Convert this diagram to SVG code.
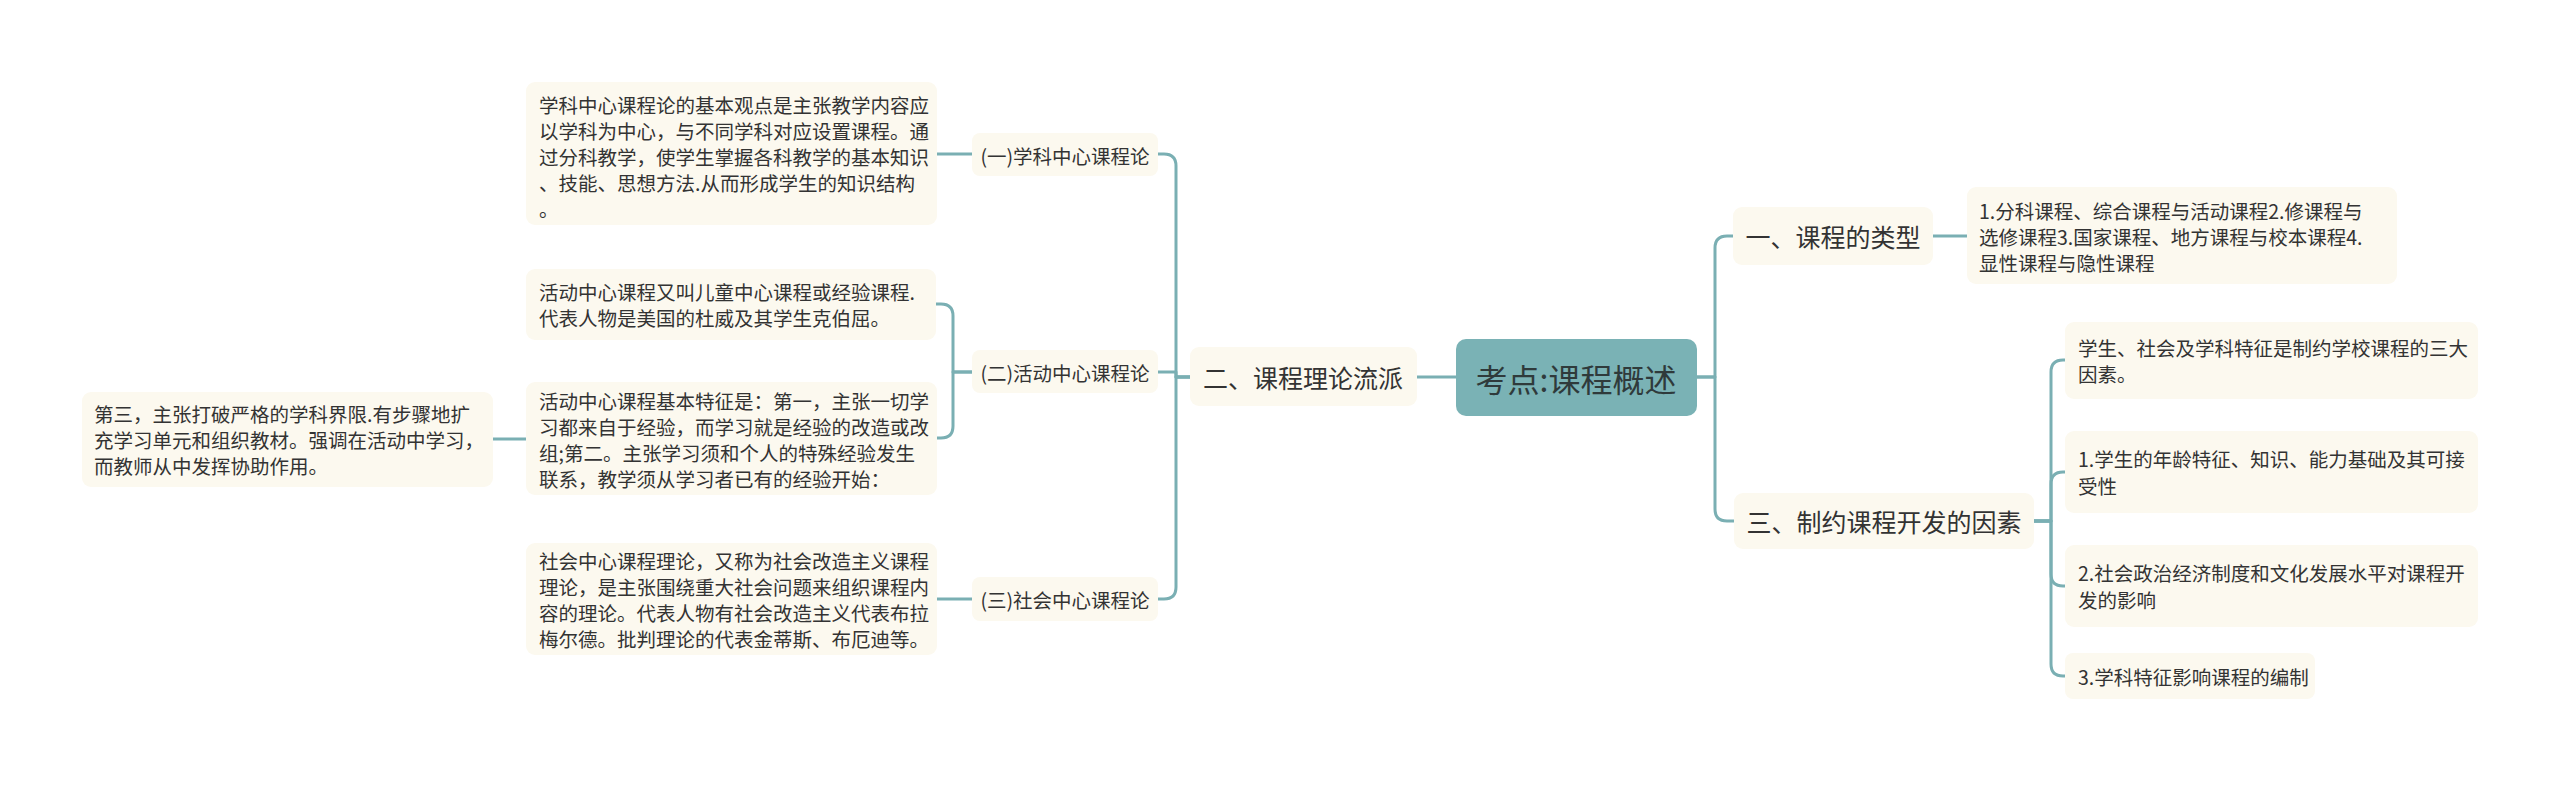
<svg xmlns="http://www.w3.org/2000/svg" width="2560" height="785" viewBox="0 0 2560 785">
<style>
text{font-family:"Noto Sans CJK SC","Noto Sans",sans-serif;fill:#333;dominant-baseline:central}
.leaf{fill:#fcf9ef}
.t{font-size:19.5px}
.m{font-size:19.5px;text-anchor:middle}
.b{font-size:25px;text-anchor:middle}
.c{font-size:32px;text-anchor:middle;fill:#2f3a3b}
.ln{fill:none;stroke:#7aafb3;stroke-width:3;stroke-linecap:round;stroke-linejoin:round}
</style>
<rect width="2560" height="785" fill="#fff"/>
<g id="connectors">
<path class="ln" d="M1456,377 H1417"/>
<path class="ln" d="M1190,377 H1176 V166 Q1176,154 1164,154 H1158"/>
<path class="ln" d="M1190,377 H1176 V372 H1158"/>
<path class="ln" d="M1190,377 H1176 V587 Q1176,599 1164,599 H1158"/>
<path class="ln" d="M972,154 H937"/>
<path class="ln" d="M972,372 H953 V316 Q953,304 941,304 H936"/>
<path class="ln" d="M972,372 H953 V426 Q953,438 941,438 H937"/>
<path class="ln" d="M526,439 H493"/>
<path class="ln" d="M972,599 H937"/>
<path class="ln" d="M1697,377 H1715 V248 Q1715,236 1727,236 H1733"/>
<path class="ln" d="M1697,377 H1715 V509 Q1715,521 1727,521 H1734"/>
<path class="ln" d="M1933,236 H1967"/>
<path class="ln" d="M2034,521 H2051 V372 Q2051,360 2063,360 H2065"/>
<path class="ln" d="M2034,521 H2051 V484 Q2051,472 2063,472 H2065"/>
<path class="ln" d="M2034,521 H2051 V574 Q2051,586 2063,586 H2065"/>
<path class="ln" d="M2034,521 H2051 V664 Q2051,676 2063,676 H2065"/>
</g>
<g id="root">
<rect x="1456" y="339" width="241" height="77" rx="10" fill="#7ab2b5"/>
<text class="c" x="1576" y="378">考点:课程概述</text>
</g>
<g id="n2">
<rect class="leaf" x="1190" y="347" width="227" height="59" rx="9"/>
<text class="b" x="1303" y="377">二、课程理论流派</text>
</g>
<g id="n2a">
<rect class="leaf" x="972" y="133" width="186" height="43" rx="8"/>
<text class="m" x="1065" y="155">(一)学科中心课程论</text>
</g>
<g id="n2a1">
<rect class="leaf" x="526" y="82" width="411" height="143" rx="9"/>
<text class="t" x="539" y="104">学科中心课程论的基本观点是主张教学内容应</text>
<text class="t" x="539" y="130">以学科为中心，与不同学科对应设置课程。通</text>
<text class="t" x="539" y="156">过分科教学，使学生掌握各科教学的基本知识</text>
<text class="t" x="539" y="182">、技能、思想方法.从而形成学生的知识结构</text>
<text class="t" x="539" y="208">。</text>
</g>
<g id="n2b">
<rect class="leaf" x="972" y="350" width="186" height="43" rx="8"/>
<text class="m" x="1065" y="372">(二)活动中心课程论</text>
</g>
<g id="n2b1">
<rect class="leaf" x="526" y="269" width="410" height="71" rx="9"/>
<text class="t" x="539" y="291">活动中心课程又叫儿童中心课程或经验课程.</text>
<text class="t" x="539" y="317">代表人物是美国的杜威及其学生克伯屈。</text>
</g>
<g id="n2b2">
<rect class="leaf" x="526" y="382" width="411" height="113" rx="9"/>
<text class="t" x="539" y="400">活动中心课程基本特征是：第一，主张一切学</text>
<text class="t" x="539" y="426">习都来自于经验，而学习就是经验的改造或改</text>
<text class="t" x="539" y="452">组;第二。主张学习须和个人的特殊经验发生</text>
<text class="t" x="539" y="478">联系，教学须从学习者已有的经验开始：</text>
</g>
<g id="n2b3">
<rect class="leaf" x="82" y="392" width="411" height="95" rx="9"/>
<text class="t" x="94" y="413">第三，主张打破严格的学科界限.有步骤地扩</text>
<text class="t" x="94" y="439">充学习单元和组织教材。强调在活动中学习，</text>
<text class="t" x="94" y="465">而教师从中发挥协助作用。</text>
</g>
<g id="n2c">
<rect class="leaf" x="972" y="577" width="186" height="44" rx="8"/>
<text class="m" x="1065" y="599">(三)社会中心课程论</text>
</g>
<g id="n2c1">
<rect class="leaf" x="526" y="543" width="411" height="112" rx="9"/>
<text class="t" x="539" y="560">社会中心课程理论，又称为社会改造主义课程</text>
<text class="t" x="539" y="586">理论，是主张围绕重大社会问题来组织课程内</text>
<text class="t" x="539" y="612">容的理论。代表人物有社会改造主义代表布拉</text>
<text class="t" x="539" y="638">梅尔德。批判理论的代表金蒂斯、布厄迪等。</text>
</g>
<g id="n1">
<rect class="leaf" x="1733" y="207" width="200" height="58" rx="9"/>
<text class="b" x="1833" y="236">一、课程的类型</text>
</g>
<g id="n1a">
<rect class="leaf" x="1967" y="187" width="430" height="97" rx="9"/>
<text class="t" x="1979" y="210">1.分科课程、综合课程与活动课程2.修课程与</text>
<text class="t" x="1979" y="236">选修课程3.国家课程、地方课程与校本课程4.</text>
<text class="t" x="1979" y="262">显性课程与隐性课程</text>
</g>
<g id="n3">
<rect class="leaf" x="1734" y="493" width="300" height="56" rx="9"/>
<text class="b" x="1884" y="521">三、制约课程开发的因素</text>
</g>
<g id="n3a">
<rect class="leaf" x="2065" y="322" width="413" height="77" rx="9"/>
<text class="t" x="2078" y="347">学生、社会及学科特征是制约学校课程的三大</text>
<text class="t" x="2078" y="373">因素。</text>
</g>
<g id="n3b">
<rect class="leaf" x="2065" y="431" width="413" height="82" rx="9"/>
<text class="t" x="2078" y="458">1.学生的年龄特征、知识、能力基础及其可接</text>
<text class="t" x="2078" y="485">受性</text>
</g>
<g id="n3c">
<rect class="leaf" x="2065" y="545" width="413" height="82" rx="9"/>
<text class="t" x="2078" y="572">2.社会政治经济制度和文化发展水平对课程开</text>
<text class="t" x="2078" y="599">发的影响</text>
</g>
<g id="n3d">
<rect class="leaf" x="2065" y="653" width="250" height="46" rx="8"/>
<text class="t" x="2078" y="676">3.学科特征影响课程的编制</text>
</g>
</svg>
